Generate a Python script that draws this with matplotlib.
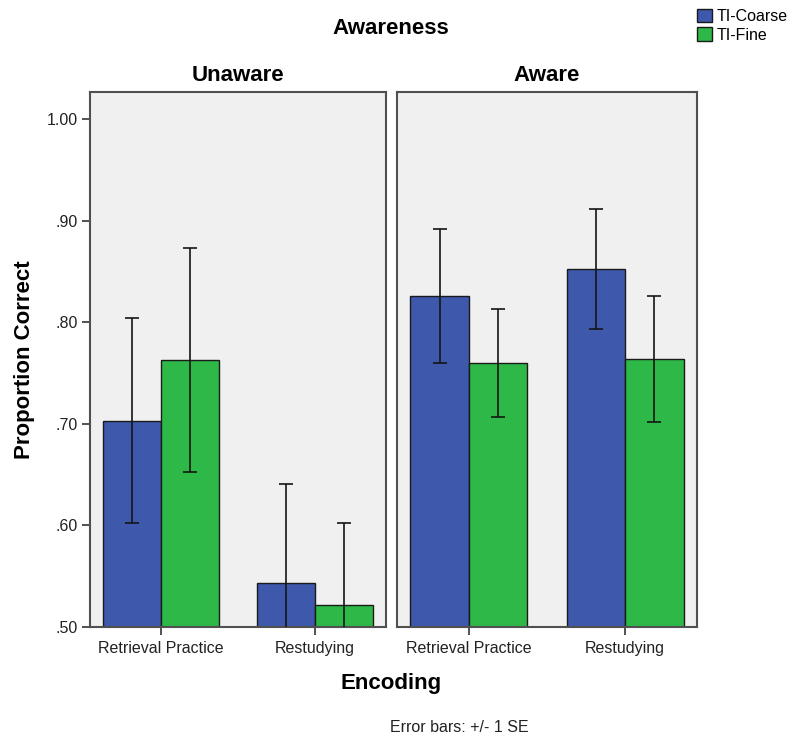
import matplotlib
matplotlib.use("Agg")
import matplotlib.pyplot as plt
import numpy as np
from matplotlib.patches import Patch

plt.rcParams['font.family'] = ['Liberation Sans', 'DejaVu Sans']

categories = ["Retrieval Practice", "Restudying"]
panels = ["Unaware", "Aware"]
series = ["TI-Coarse", "TI-Fine"]

unaware_coarse = [0.703, 0.543]
unaware_fine = [0.763, 0.522]
aware_coarse = [0.826, 0.852]
aware_fine = [0.760, 0.764]

unaware_coarse_se = [0.101, 0.098]
unaware_fine_se = [0.110, 0.080]
aware_coarse_se = [0.066, 0.059]
aware_fine_se = [0.053, 0.062]

ytick_vals = [0.5, 0.6, 0.7, 0.8, 0.9, 1.0]
ytick_labels = [".50", ".60", ".70", ".80", ".90", "1.00"]

blue = "#3E58AC"
green = "#2EB848"
bg = "#F0F0F0"
spine_col = "#505050"

W, H = 791, 740
fig = plt.figure(figsize=(W / 100, H / 100), dpi=100)

top_px, bot_px = 92, 627
axes_px = [(90, 386), (397, 697)]
data = [
    (unaware_coarse, unaware_coarse_se, unaware_fine, unaware_fine_se),
    (aware_coarse, aware_coarse_se, aware_fine, aware_fine_se),
]

x = np.arange(len(categories))
bw = 0.375
for i, ((l, r), (c, cse, f, fse)) in enumerate(zip(axes_px, data)):
    ax = fig.add_axes([l / W, 1 - bot_px / H, (r - l) / W, (bot_px - top_px) / H])
    ax.set_facecolor(bg)
    ax.bar(x - bw / 2, c, bw, color=blue, edgecolor="#1a1a1a", linewidth=1.0, zorder=2)
    ax.bar(x + bw / 2, f, bw, color=green, edgecolor="#1a1a1a", linewidth=1.0, zorder=2)
    ax.errorbar(x - bw / 2, c, yerr=cse, fmt="none", ecolor="#151515",
                elinewidth=1.2, capsize=5, capthick=1.2, zorder=3)
    ax.errorbar(x + bw / 2, f, yerr=fse, fmt="none", ecolor="#151515",
                elinewidth=1.2, capsize=5, capthick=1.2, zorder=3)
    ax.set_xlim(-0.46, 1.46)
    ax.set_ylim(0.5, 1.0266)
    ax.set_xticks(x)
    ax.set_xticklabels(categories, fontsize=11.5, color="#222222")
    ax.tick_params(axis="x", length=6, width=1.2, color="#333333", pad=4)
    for s in ax.spines.values():
        s.set_color(spine_col)
        s.set_linewidth(1.5)
    if i == 0:
        ax.set_yticks(ytick_vals)
        ax.set_yticklabels(ytick_labels, fontsize=11.5, color="#222222")
        ax.tick_params(axis="y", length=6, width=1.2, color="#333333", pad=3)
        ax.set_ylabel("Proportion Correct", fontsize=16, fontweight="bold", labelpad=8)
    else:
        ax.set_yticks([])
    ax.set_title(panels[i], fontsize=16, fontweight="bold", pad=8)

fig.text(391 / W, 1 - 29 / H, "Awareness", ha="center", va="center",
         fontsize=16, fontweight="bold")
fig.text(391 / W, 1 - 684 / H, "Encoding", ha="center", va="center",
         fontsize=16, fontweight="bold")
fig.text(459 / W, 1 - 727 / H, "Error bars: +/- 1 SE", ha="center", va="center",
         fontsize=11.5, color="#222222")

handles = [Patch(facecolor=blue, edgecolor="#1a1a1a", label=series[0]),
           Patch(facecolor=green, edgecolor="#1a1a1a", label=series[1])]
fig.legend(handles=handles, loc="upper right", bbox_to_anchor=(1.012, 1.005),
           frameon=False, fontsize=11.5, handlelength=0.9, handleheight=0.9,
           handletextpad=0.3, labelspacing=0.2, borderpad=0.3)

fig.savefig("out.png", dpi=100)
